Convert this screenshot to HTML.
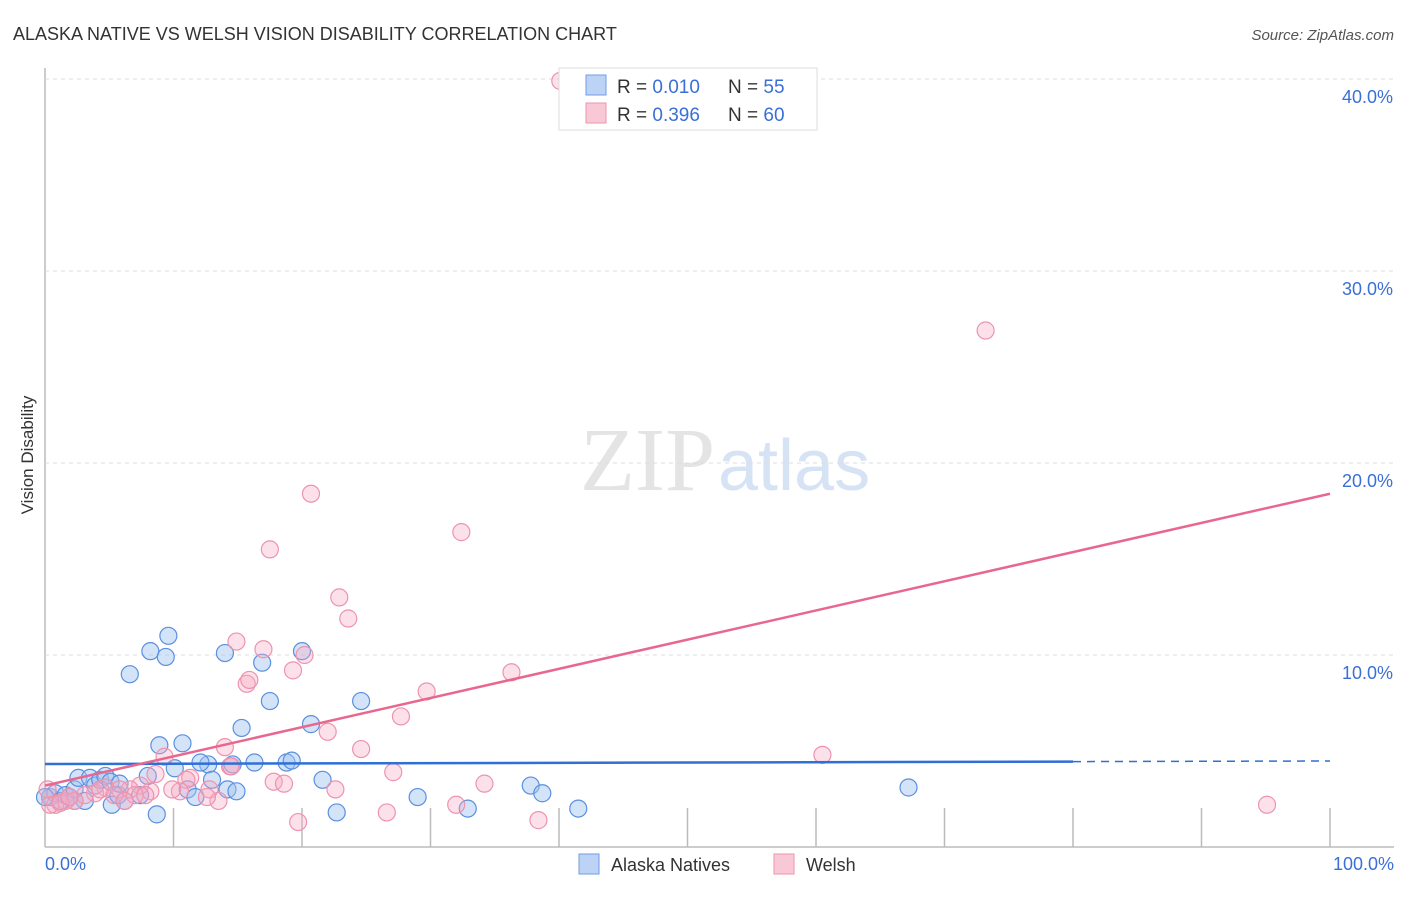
<!DOCTYPE html>
<html><head><meta charset="utf-8"><style>
body{margin:0;background:#fff;font-family:"Liberation Sans",sans-serif;}
</style></head><body>
<svg id="chart" width="1406" height="892">
<text x="13" y="40" font-size="18" fill="#333">ALASKA NATIVE VS WELSH VISION DISABILITY CORRELATION CHART</text>
<text x="1394" y="40" font-size="15" fill="#555" font-style="italic" text-anchor="end">Source: ZipAtlas.com</text>
<text x="715" y="490" font-size="90" fill="#e4e4e4" font-family="Liberation Serif" text-anchor="end">ZIP</text>
<text x="718" y="490" font-size="72" fill="#d6e3f5">atlas</text>
<g id="grid"></g>
<g id="marks"></g>
<text x="33" y="455" font-size="17" fill="#333" text-anchor="middle" transform="rotate(-90 33 455)">Vision Disability</text>
<text x="45" y="870" font-size="18" fill="#3a6fd8">0.0%</text>
<text x="1394" y="870" font-size="18" fill="#3a6fd8" text-anchor="end">100.0%</text>
<g>
<rect x="579" y="854" width="20" height="20" fill="#bcd3f5" stroke="#6f9de6"/>
<text x="611" y="871" font-size="18" fill="#333">Alaska Natives</text>
<rect x="774" y="854" width="20" height="20" fill="#f8c8d6" stroke="#ee93ad"/>
<text x="806" y="871" font-size="18" fill="#333">Welsh</text>
</g>
<g>
<rect x="559" y="68" width="258" height="62" fill="#fff" stroke="#ddd"/>
<rect x="586" y="75" width="20" height="20" fill="#bcd3f5" stroke="#6f9de6"/>
<rect x="586" y="103" width="20" height="20" fill="#f8c8d6" stroke="#ee93ad"/>
<text x="617" y="93" font-size="19" fill="#333">R = <tspan fill="#3a6fd8">0.010</tspan><tspan x="728">N = </tspan><tspan fill="#3a6fd8">55</tspan></text>
<text x="617" y="121" font-size="19" fill="#333">R = <tspan fill="#3a6fd8">0.396</tspan><tspan x="728">N = </tspan><tspan fill="#3a6fd8">60</tspan></text>
</g>
</svg>
<script>
const yTicks=[10,20,30,40];
const yTickLabels=["10.0%","20.0%","30.0%","40.0%"];
const xTicks=[10,20,30,40,50,60,70,80,90,100];
const blueX=[0.4,0.8,1.2,1.6,1.9,2.3,2.6,3.1,3.5,3.9,4.3,4.7,5.1,5.2,5.7,5.8,6.2,6.6,7.4,8.0,8.2,8.7,8.9,9.6,9.4,10.1,10.7,11.1,12.7,13.0,14.0,14.2,14.6,14.9,15.3,16.3,16.9,17.5,18.8,19.2,20.0,20.7,21.6,22.7,24.6,29.0,32.9,37.8,38.7,41.5,67.2,0.0,2.3,12.1,11.7];
const blueY=[2.6,2.8,2.4,2.7,2.6,3.0,3.6,2.4,3.6,3.2,3.5,3.7,3.4,2.2,2.7,3.3,2.4,9.0,2.7,3.7,10.2,1.7,5.3,11.0,9.9,4.1,5.4,3.0,4.3,3.5,10.1,3.0,4.3,2.9,6.2,4.4,9.6,7.6,4.4,4.5,10.2,6.4,3.5,1.8,7.6,2.6,2.0,3.2,2.8,2.0,3.1,2.6,2.4,4.4,2.6];
const pinkX=[40.1,73.2,20.7,17.5,32.4,22.9,23.6,14.9,17.0,20.2,19.3,15.7,15.9,36.3,29.7,27.7,22.0,14.0,24.6,60.5,27.1,34.2,17.8,18.6,22.6,32.0,26.6,95.1,38.4,19.7,14.4,9.3,11.3,12.8,13.5,12.6,11.0,10.5,9.9,8.6,8.2,7.4,6.6,5.8,4.7,3.9,3.1,2.3,1.6,0.8,0.4,0.2,1.2,1.9,4.3,5.4,7.0,7.8,6.2,14.5];
const pinkY=[39.9,26.9,18.4,15.5,16.4,13.0,11.9,10.7,10.3,10.0,9.2,8.5,8.7,9.1,8.1,6.8,6.0,5.2,5.1,4.8,3.9,3.3,3.4,3.3,3.0,2.2,1.8,2.2,1.4,1.3,4.2,4.7,3.6,3.0,2.4,2.6,3.5,2.9,3.0,3.8,2.9,3.2,3.0,3.0,3.1,2.8,2.7,2.4,2.4,2.2,2.2,3.0,2.3,2.6,3.0,2.7,2.7,2.7,2.4,4.2];
const blueTrend=[4.32,4.48];
const pinkTrend=[3.2,18.4];

const NS="http://www.w3.org/2000/svg";
const X0=45,X1=1330,Y0=847,PXY=19.2;
const sx=v=>X0+(X1-X0)*v/100;
const sy=v=>Y0-v*PXY;
function mk(tag,attrs,parent){const e=document.createElementNS(NS,tag);for(const k in attrs)e.setAttribute(k,attrs[k]);parent.appendChild(e);return e;}
const grid=document.getElementById('grid');
const marks=document.getElementById('marks');
let ax=mk('line',{x1:X0,y1:68,x2:X0,y2:Y0,stroke:'#bbb','stroke-width':1.5},grid);


let bx=mk('line',{x1:X0,y1:Y0,x2:1394,y2:Y0,stroke:'#bbb','stroke-width':1.5},grid);


yTicks.forEach((t,i)=>{
  const g=mk('line',{x1:X0,y1:sy(t),x2:1394,y2:sy(t),stroke:'#ddd','stroke-dasharray':'4 4'},grid);
  
  
  const tx=mk('text',{x:1393,y:sy(t)+24,'font-size':18,fill:'#3a6fd8','text-anchor':'end'},grid);
  tx.textContent=yTickLabels[i];
  
  
});
xTicks.forEach(t=>{
  const l=mk('line',{x1:sx(t),y1:Y0-39,x2:sx(t),y2:Y0,stroke:'#bbb','stroke-width':1.5},grid);
  
  
});
blueX.forEach((v,i)=>{
  const c=mk('circle',{cx:sx(v),cy:sy(blueY[i]),r:8.5,fill:'rgba(160,195,240,0.45)',stroke:'#5b8fe0','stroke-width':1.2},marks);
  
  
});
pinkX.forEach((v,i)=>{
  const c=mk('circle',{cx:sx(v),cy:sy(pinkY[i]),r:8.5,fill:'rgba(245,170,195,0.35)',stroke:'#ee93ad','stroke-width':1.2},marks);
  
  
});
const bAt=x=>blueTrend[0]+(blueTrend[1]-blueTrend[0])*x/100;
let bl=mk('line',{x1:sx(0),y1:sy(bAt(0)),x2:sx(80),y2:sy(bAt(80)),stroke:'#2f6fd6','stroke-width':2.5},marks);


let bd=mk('line',{x1:sx(80),y1:sy(bAt(80)),x2:sx(100),y2:sy(bAt(100)),stroke:'#2f6fd6','stroke-width':1.5,'stroke-dasharray':'8 6'},marks);


let pl=mk('line',{x1:sx(0),y1:sy(pinkTrend[0]),x2:sx(100),y2:sy(pinkTrend[1]),stroke:'#e8678f','stroke-width':2.5},marks);


</script>
</body></html>
